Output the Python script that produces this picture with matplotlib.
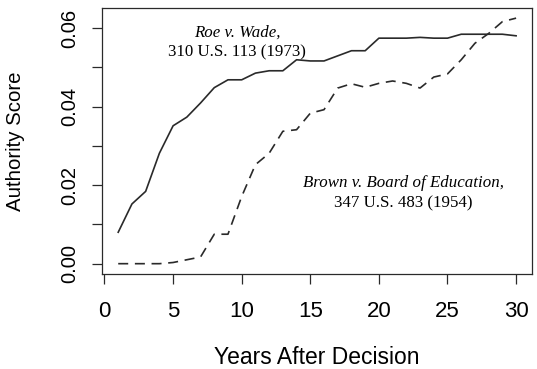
import matplotlib
matplotlib.use("Agg")
import matplotlib.pyplot as plt
import numpy as np

years = list(range(1, 31))
roe = [0.0080, 0.0152, 0.0184, 0.0281, 0.0351, 0.0373, 0.0409, 0.0448, 0.0468, 0.0468,
       0.0485, 0.0491, 0.0491, 0.0519, 0.0516, 0.0516, 0.0529, 0.0542, 0.0542, 0.0574,
       0.0574, 0.0574, 0.0576, 0.0574, 0.0574, 0.0584, 0.0584, 0.0584, 0.0584, 0.0580]
brown = [0.0000, 0.0000, 0.0000, 0.0000, 0.0003, 0.0010, 0.0017, 0.0075, 0.0075, 0.0171,
         0.0252, 0.0281, 0.0337, 0.0341, 0.0383, 0.0392, 0.0447, 0.0458, 0.0449, 0.0459,
         0.0465, 0.0459, 0.0447, 0.0475, 0.0483, 0.0519, 0.0561, 0.0586, 0.0616, 0.0625]
xticks = [0, 5, 10, 15, 20, 25, 30]
yticks = [0.00, 0.01, 0.02, 0.03, 0.04, 0.05, 0.06]
ylabels = ["0.00", "", "0.02", "", "0.04", "", "0.06"]

plt.rcParams['font.family'] = ['Liberation Sans', 'DejaVu Sans']

fig = plt.figure(figsize=(5.37, 3.69), dpi=100)
ax = fig.add_axes([0.1905, 0.2588, 0.8002, 0.7187])

col = '#2a2a2a'
ax.plot(years, roe, color=col, lw=1.2, solid_joinstyle='round')
ax.plot(years, brown, color=col, lw=1.2, dashes=(6, 4))

xr = max(years) - min(years)
ax.set_xlim(min(years) - 0.04 * xr, max(years) + 0.04 * xr)
ymin = min(min(roe), min(brown)); ymax = max(max(roe), max(brown))
yr = ymax - ymin
ax.set_ylim(ymin - 0.04 * yr, ymax + 0.04 * yr)

ax.set_xticks(xticks)
ax.set_xticklabels([str(t) for t in xticks], fontsize=16)
ax.set_yticks(yticks)
ax.set_yticklabels(ylabels, fontsize=14.5, rotation=90, va='center')
ax.tick_params(axis='both', direction='out', length=7.5, width=0.9, color=col)
ax.tick_params(axis='x', pad=12.5)
ax.tick_params(axis='y', pad=9)
for s in ax.spines.values():
    s.set_color(col)
    s.set_linewidth(0.9)

ax.set_xlabel("Years After Decision", fontsize=16.5, va='center')
ax.xaxis.set_label_coords(0.5, -0.315)
ax.set_ylabel("Authority Score", fontsize=14.7, va='center')
ax.yaxis.set_label_coords(-0.203, 0.5)

serif = ['Liberation Serif', 'DejaVu Serif']
ax.text(0.3135, 0.907, "Roe v. Wade,", transform=ax.transAxes, ha='center', va='center',
        family=serif, style='italic', fontsize=12.2)
ax.text(0.3135, 0.835, "310 U.S. 113 (1973)", transform=ax.transAxes, ha='center', va='center',
        family=serif, fontsize=12.2)
ax.text(0.700, 0.341, "Brown v. Board of Education,", transform=ax.transAxes, ha='center', va='center',
        family=serif, style='italic', fontsize=12.2)
ax.text(0.700, 0.266, "347 U.S. 483 (1954)", transform=ax.transAxes, ha='center', va='center',
        family=serif, fontsize=12.2)

fig.savefig("out.png", dpi=100)
